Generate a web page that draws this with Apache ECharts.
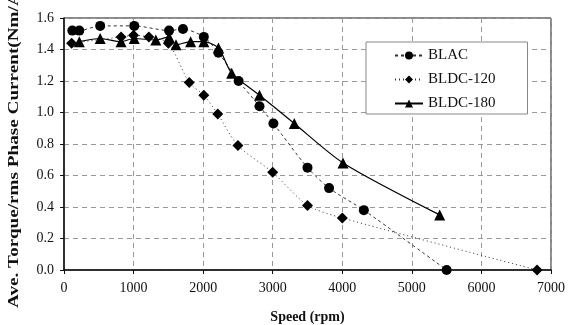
<!DOCTYPE html>
<html>
<head>
<meta charset="utf-8">
<script src="https://cdn.jsdelivr.net/npm/echarts@6/dist/echarts.min.js"></script>
<style>
  html, body { margin: 0; padding: 0; background: #fff; }
  #chart { width: 569px; height: 325px; }
</style>
</head>
<body>
<div id="chart"></div>
<script>
// Speed (rpm) and torque-per-amp readings for each drive scheme
const blacSpeed = [120, 220, 520, 1010, 1510, 1710, 2010, 2220, 2510, 2810, 3010, 3500, 3810, 4310, 5500];
const blacValue = [1.52, 1.52, 1.55, 1.55, 1.52, 1.53, 1.48, 1.38, 1.20, 1.04, 0.93, 0.65, 0.52, 0.38, 0.0];

const bldc120Speed = [110, 820, 1000, 1220, 1500, 1800, 2010, 2210, 2500, 3000, 3500, 4000, 6800];
const bldc120Value = [1.44, 1.48, 1.49, 1.48, 1.44, 1.19, 1.11, 0.99, 0.79, 0.62, 0.41, 0.33, 0.0];

const bldc180Speed = [220, 520, 820, 1010, 1320, 1510, 1610, 1820, 2010, 2220, 2410, 2810, 3310, 4010, 5400];
const bldc180Value = [1.45, 1.47, 1.45, 1.47, 1.46, 1.48, 1.43, 1.45, 1.45, 1.41, 1.25, 1.11, 0.93, 0.68, 0.35];

const xTicks = { min: 0, max: 7000, step: 1000 };
const yTicks = { min: 0, max: 1.6, step: 0.2 };

const pairs = (xs, ys) => xs.map((x, i) => [x, ys[i]]);

const serif = '"Liberation Serif", "DejaVu Serif", serif';

const chart = echarts.init(document.getElementById('chart'));
chart.setOption({
  animation: false,
  backgroundColor: '#fff',
  grid: {
    left: 64, right: 18, top: 18, bottom: 55,
    outerBoundsMode: 'none',
    containLabel: false,
    show: true, borderColor: '#111', borderWidth: 1
  },
  xAxis: {
    type: 'value',
    min: xTicks.min, max: xTicks.max, interval: xTicks.step,
    name: 'Speed (rpm)',
    nameLocation: 'middle',
    nameGap: 40,
    nameTextStyle: { fontFamily: serif, fontWeight: 'bold', fontSize: 14, color: '#111' },
    axisLine: { lineStyle: { color: '#111', width: 1.5 } },
    axisTick: { show: true, length: 4, lineStyle: { color: '#111' } },
    axisLabel: {
      fontFamily: serif, fontSize: 14, color: '#111', margin: 11,
      formatter: v => String(v)
    },
    splitLine: { show: true, lineStyle: { color: '#999', type: [5, 4], width: 1 } }
  },
  yAxis: {
    type: 'value',
    min: yTicks.min, max: yTicks.max, interval: yTicks.step,
    axisLine: { show: true, lineStyle: { color: '#111', width: 1.5 } },
    axisTick: { show: true, length: 4, lineStyle: { color: '#111' } },
    axisLabel: {
      fontFamily: serif, fontSize: 14, color: '#111', margin: 10,
      formatter: v => v.toFixed(1)
    },
    splitLine: { show: true, lineStyle: { color: '#999', type: [5, 4], width: 1 } }
  },
  legend: {
    orient: 'vertical',
    left: 366, top: 42,
    backgroundColor: '#fff',
    borderColor: '#888', borderWidth: 1,
    padding: [6, 32, 3, 28],
    itemGap: 9,
    itemWidth: 28, itemHeight: 10,
    textStyle: { fontFamily: serif, fontSize: 15, color: '#111' },
    data: ['BLAC', 'BLDC-120', 'BLDC-180']
  },
  graphic: [{
    type: 'text',
    x: 14, y: 308,
    rotation: Math.PI / 2,
    scaleX: 1.37,
    style: {
      text: 'Ave. Torque/rms Phase Current(Nm/A)',
      fontFamily: serif, fontWeight: 'bold', fontSize: 14,
      fill: '#111', textAlign: 'left', textVerticalAlign: 'middle'
    }
  }],
  series: [
    {
      name: 'BLAC', type: 'line',
      data: pairs(blacSpeed, blacValue),
      smooth: 0.25,
      symbol: 'circle', symbolSize: 10,
      itemStyle: { color: '#000' },
      lineStyle: { color: '#333', width: 1, type: [3, 3] }
    },
    {
      name: 'BLDC-120', type: 'line',
      data: pairs(bldc120Speed, bldc120Value),
      smooth: 0.25,
      symbol: 'diamond', symbolSize: 11,
      itemStyle: { color: '#000' },
      lineStyle: { color: '#333', width: 1, type: [1, 3] }
    },
    {
      name: 'BLDC-180', type: 'line',
      data: pairs(bldc180Speed, bldc180Value),
      smooth: 0.25,
      symbol: 'triangle', symbolSize: 11,
      itemStyle: { color: '#000' },
      lineStyle: { color: '#000', width: 1.2, type: 'solid' }
    }
  ]
});
</script>
</body>
</html>
